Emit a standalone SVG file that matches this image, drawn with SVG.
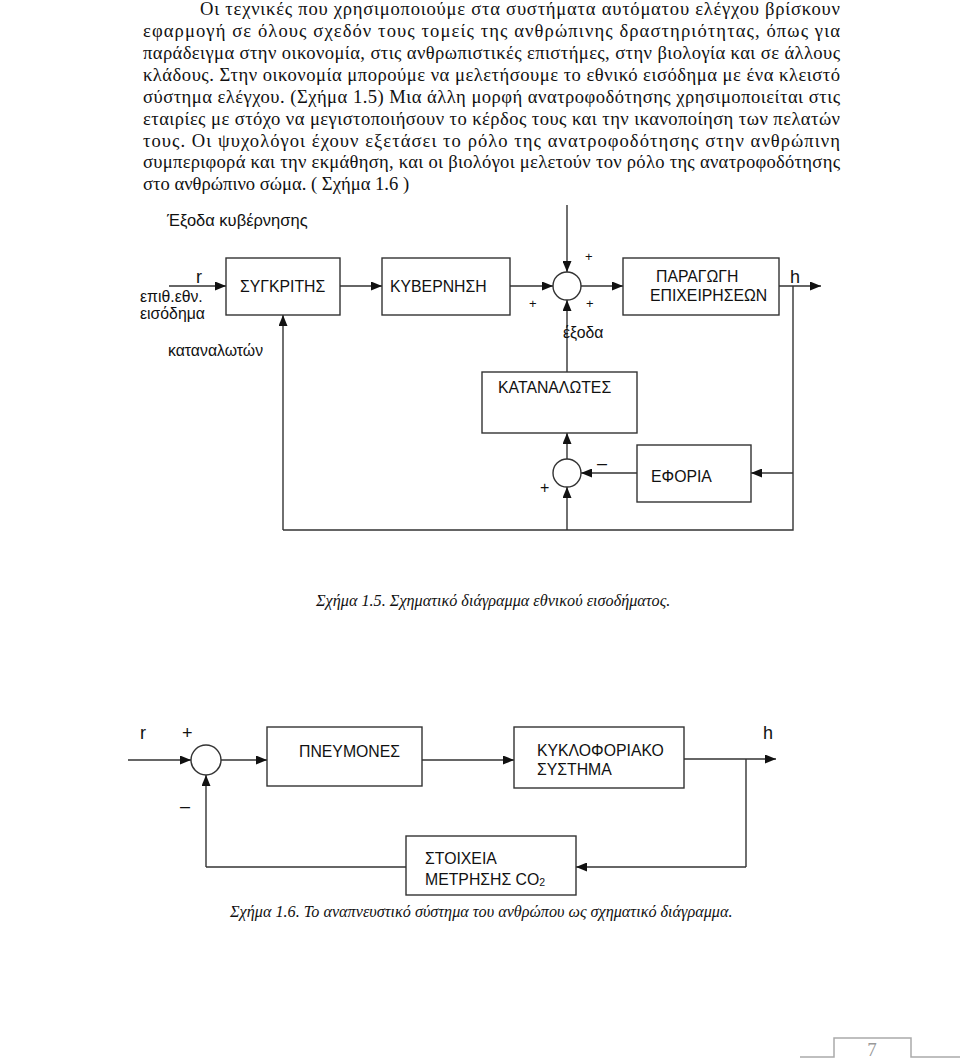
<svg xmlns="http://www.w3.org/2000/svg" width="960" height="1060" viewBox="0 0 960 1060">
<defs>
<marker id="arr" markerUnits="userSpaceOnUse" markerWidth="11" markerHeight="9" refX="11" refY="4.5" orient="auto">
<path d="M0,0 L11,4.5 L0,9 z" fill="#111"/>
</marker>
<style>
.p{font-family:"Liberation Serif","Times New Roman",serif;font-size:18.6px;fill:#111}
.cap{font-family:"Liberation Serif","Times New Roman",serif;font-style:italic;font-size:16.2px;fill:#111}
.t{font-family:"Liberation Sans",Arial,sans-serif;font-size:15.8px;fill:#111}
.s{font-family:"Liberation Sans",Arial,sans-serif;font-size:13px;fill:#111}
.box{fill:#fff;stroke:#333;stroke-width:1.4}
.ln{fill:none;stroke:#333;stroke-width:1.4}
.a{fill:none;stroke:#333;stroke-width:1.4;marker-end:url(#arr)}
</style>
</defs>
<rect width="960" height="1060" fill="#fff"/>

<g id="paragraph">
<text class="p" x="200" y="15" textLength="640" lengthAdjust="spacing">Οι τεχνικές που χρησιμοποιούμε στα συστήματα αυτόματου ελέγχου βρίσκουν</text>
<text class="p" x="143" y="37" textLength="697" lengthAdjust="spacing">εφαρμογή σε όλους σχεδόν τους τομείς της ανθρώπινης δραστηριότητας, όπως για</text>
<text class="p" x="143" y="59" textLength="697" lengthAdjust="spacing">παράδειγμα στην οικονομία, στις ανθρωπιστικές επιστήμες, στην βιολογία και σε άλλους</text>
<text class="p" x="143" y="81" textLength="697" lengthAdjust="spacing">κλάδους. Στην οικονομία μπορούμε να μελετήσουμε το εθνικό εισόδημα με ένα κλειστό</text>
<text class="p" x="143" y="103" textLength="697" lengthAdjust="spacing">σύστημα ελέγχου. (Σχήμα 1.5) Μια άλλη μορφή ανατροφοδότησης χρησιμοποιείται στις</text>
<text class="p" x="143" y="125" textLength="697" lengthAdjust="spacing">εταιρίες με στόχο να μεγιστοποιήσουν το κέρδος τους και την ικανοποίηση των πελατών</text>
<text class="p" x="143" y="147" textLength="697" lengthAdjust="spacing">τους. Οι ψυχολόγοι έχουν εξετάσει το ρόλο της ανατροφοδότησης στην ανθρώπινη</text>
<text class="p" x="143" y="168" textLength="697" lengthAdjust="spacing">συμπεριφορά και την εκμάθηση, και οι βιολόγοι μελετούν τον ρόλο της ανατροφοδότησης</text>
<text class="p" x="143" y="190">στο ανθρώπινο σώμα. ( Σχήμα 1.6 )</text>
</g>

<!-- Figure 1.5 -->
<g id="fig15-connectors">
<path class="a" d="M169,286 H226"/>
<path class="a" d="M340,286 H382"/>
<path class="a" d="M510,286 H553"/>
<path class="a" d="M567,205 V272"/>
<path class="a" d="M581,286 H623"/>
<path class="a" d="M779,286 H821"/>
<path class="ln" d="M793,286 V530 H283"/>
<path class="a" d="M283,530 V315"/>
<path class="a" d="M567,530 V487"/>
<path class="a" d="M567,459 V433"/>
<path class="a" d="M567,372 V300"/>
<path class="a" d="M793,473 H751"/>
<path class="a" d="M637,473 H581"/>
</g>
<g id="fig15-labels">
<text class="t" x="167" y="226" style="font-size:16.5px">Έξοδα κυβέρνησης</text>
<text class="t" x="196" y="283" style="font-size:18px">r</text>
<text class="t" x="140" y="302">επιθ.εθν.</text>
<text class="t" x="140" y="319">εισόδημα</text>
<text class="t" x="168" y="356">καταναλωτών</text>
<text class="t" x="563" y="338">έξοδα</text>
<text class="t" x="790" y="283" style="font-size:18px">h</text>
<text class="s" x="585" y="261">+</text>
<text class="s" x="529" y="308">+</text>
<text class="s" x="586" y="308">+</text>
<text class="t" x="540" y="493" style="font-size:16px">+</text>
<text class="t" x="597" y="469" style="font-size:18px">–</text>
</g>
<g id="comparator"><rect class="box" x="226" y="258" width="114" height="57"/><text class="t" x="240" y="292">ΣΥΓΚΡΙΤΗΣ</text></g>
<g id="government"><rect class="box" x="382" y="258" width="128" height="57"/><text class="t" x="390" y="292">ΚΥΒΕΡΝΗΣΗ</text></g>
<g id="sum1"><circle class="box" cx="567" cy="286" r="14"/></g>
<g id="production"><rect class="box" x="623" y="258" width="156" height="57"/><text class="t" x="656" y="282">ΠΑΡΑΓΩΓΗ</text><text class="t" x="650" y="301">ΕΠΙΧΕΙΡΗΣΕΩΝ</text></g>
<g id="consumers"><rect class="box" x="482" y="372" width="155" height="61"/><text class="t" x="498" y="393">ΚΑΤΑΝΑΛΩΤΕΣ</text></g>
<g id="sum2"><circle class="box" cx="567" cy="473" r="14"/></g>
<g id="tax"><rect class="box" x="637" y="445" width="114" height="57"/><text class="t" x="651" y="482">ΕΦΟΡΙΑ</text></g>
<text class="cap" x="316" y="606">Σχήμα 1.5. Σχηματικό διάγραμμα εθνικού εισοδήματος.</text>

<!-- Figure 1.6 -->
<g id="fig16-connectors">
<path class="a" d="M128,760 H191"/>
<path class="a" d="M221,760 H267"/>
<path class="a" d="M422,760 H514"/>
<path class="a" d="M684,759 H776"/>
<path class="ln" d="M746,759 V867"/>
<path class="a" d="M746,867 H576"/>
<path class="ln" d="M406,867 H206"/>
<path class="a" d="M206,867 V775"/>
</g>
<g id="fig16-labels">
<text class="t" x="140" y="739" style="font-size:18px">r</text>
<text class="t" x="182" y="739" style="font-size:18px">+</text>
<text class="t" x="180" y="812" style="font-size:18px">–</text>
<text class="t" x="763" y="739" style="font-size:18px">h</text>
</g>
<g id="sum3"><circle class="box" cx="206" cy="760" r="15"/></g>
<g id="lungs"><rect class="box" x="267" y="727" width="155" height="59"/><text class="t" x="299" y="757">ΠΝΕΥΜΟΝΕΣ</text></g>
<g id="circulation"><rect class="box" x="514" y="727" width="170" height="61"/><text class="t" x="537" y="756">ΚΥΚΛΟΦΟΡΙΑΚΟ</text><text class="t" x="537" y="775">ΣΥΣΤΗΜΑ</text></g>
<g id="sensor"><rect class="box" x="406" y="836" width="170" height="59"/><text class="t" x="425" y="864">ΣΤΟΙΧΕΙΑ</text><text class="t" x="425" y="885">ΜΕΤΡΗΣΗΣ CO<tspan style="font-size:10.5px" dy="1">2</tspan></text></g>
<text class="cap" x="230" y="917">Σχήμα 1.6. Το αναπνευστικό σύστημα του ανθρώπου ως σχηματικό διάγραμμα.</text>

<g id="page-number">
<path d="M800,1057 H834 V1038 H911 V1057 H960" fill="none" stroke="#aaa" stroke-width="1.5"/>
<text x="872" y="1056" text-anchor="middle" style="font-family:'Liberation Serif','Times New Roman',serif;font-size:19px;fill:#999">7</text>
</g>
</svg>
